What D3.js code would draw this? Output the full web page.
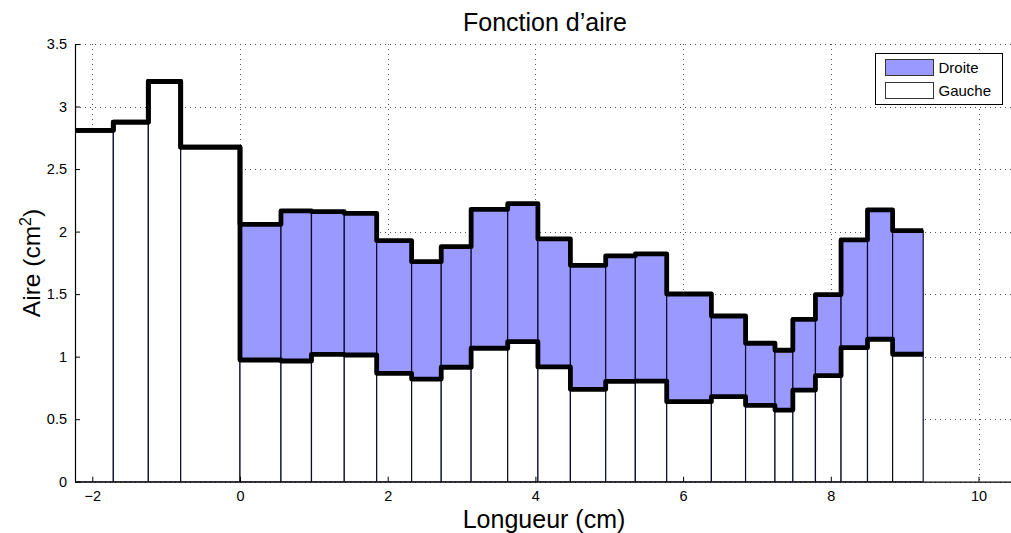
<!DOCTYPE html>
<html><head><meta charset="utf-8">
<script src="https://cdn.jsdelivr.net/npm/d3@7"></script>
<style>
body{margin:0;background:#fff;}
text{font-family:"Liberation Sans",Arial,Helvetica,sans-serif;fill:#000;}
</style></head>
<body><svg id="c" width="1011" height="533"></svg>
<script>
// bar edges (cm)
const edges = [-2.3, -1.715, -1.241, -0.803, 0, 0.555, 0.968, 1.412, 1.851, 2.324, 2.725, 3.130, 3.625, 4.034, 4.474, 4.952, 5.353, 5.778, 6.383, 6.846, 7.244, 7.486, 7.792, 8.139, 8.497, 8.837, 9.251];
// Gauche (bottom, white)
const gauche = [2.81, 2.875, 3.20, 2.675, 0.973, 0.965, 1.018, 1.013, 0.867, 0.821, 0.915, 1.067, 1.120, 0.918, 0.739, 0.803, 0.805, 0.640, 0.680, 0.611, 0.573, 0.733, 0.848, 1.072, 1.139, 1.019];
// Droite (stacked on top, blue)
const droite = [0, 0, 0, 0, 1.085, 1.200, 1.141, 1.133, 1.060, 0.938, 0.964, 1.111, 1.103, 1.023, 0.991, 1.002, 1.016, 0.861, 0.645, 0.496, 0.478, 0.565, 0.648, 0.861, 1.034, 0.988];
const xTicks = [-2, 0, 2, 4, 6, 8, 10];
const yTicks = [0, 0.5, 1, 1.5, 2, 2.5, 3, 3.5];
const seriesNames = ["Droite", "Gauche"];

const svg = d3.select("#c");
const L = 75, R = 1011, T = 44, B = 481.7;
const x = d3.scaleLinear().domain([-2.234, 10.44]).range([L, R]);
const y = d3.scaleLinear().domain([0, 3.5]).range([B, T]);

svg.append("defs").append("clipPath").attr("id", "clip")
  .append("rect").attr("x", L).attr("y", T - 10).attr("width", R - L).attr("height", B - T + 10);

// grid
const grid = svg.append("g").attr("stroke", "#555").attr("stroke-width", 1).attr("stroke-dasharray", "1,4");
grid.selectAll(".gx").data(xTicks).join("line")
  .attr("x1", d => Math.round(x(d)) + 0.5).attr("x2", d => Math.round(x(d)) + 0.5)
  .attr("y1", T).attr("y2", B);
grid.selectAll(".gy").data(yTicks).join("line")
  .attr("x1", L).attr("x2", R)
  .attr("y1", d => Math.round(y(d)) + 0.5).attr("y2", d => Math.round(y(d)) + 0.5);

const bars = d3.range(gauche.length).map(i => ({x0: edges[i], x1: edges[i + 1], g: gauche[i], d: droite[i]}));
const plot = svg.append("g").attr("clip-path", "url(#clip)");

plot.selectAll(".bg").data(bars).join("rect")
  .attr("x", d => x(d.x0)).attr("width", d => x(d.x1) - x(d.x0))
  .attr("y", d => y(d.g)).attr("height", d => y(0) - y(d.g))
  .attr("fill", "#fff").attr("stroke", "#0a0a30").attr("stroke-width", 1.2);
plot.selectAll(".bd").data(bars.filter(d => d.d > 0)).join("rect")
  .attr("x", d => x(d.x0)).attr("width", d => x(d.x1) - x(d.x0))
  .attr("y", d => y(d.g + d.d)).attr("height", d => y(d.g) - y(d.g + d.d))
  .attr("fill", "#9999ff").attr("stroke", "#0a0a30").attr("stroke-width", 1.2);

const stairs = d3.line().x(d => x(d[0])).y(d => y(d[1])).curve(d3.curveStepAfter);
const ptsG = bars.map(b => [b.x0, b.g]).concat([[edges[edges.length - 1], gauche[gauche.length - 1]]]);
const ptsT = bars.map(b => [b.x0, b.g + b.d]).concat([[edges[edges.length - 1], gauche[gauche.length - 1] + droite[droite.length - 1]]]);
[ptsT, ptsG].forEach(p => plot.append("path").attr("d", stairs(p))
  .attr("fill", "none").attr("stroke", "#000").attr("stroke-width", 4.8).attr("stroke-linejoin", "round"));

// axes
const ax = svg.append("g").attr("transform", `translate(0,${B})`)
  .call(d3.axisBottom(x).tickValues(xTicks).tickSizeInner(-5).tickSizeOuter(0).tickPadding(9)
    .tickFormat(d => d < 0 ? "\u2212" + Math.abs(d) : d));
ax.select(".domain").attr("stroke-width", 1.2);
ax.selectAll("text").style("font-size", "14.5px").attr("font-family", null);
const ay = svg.append("g").attr("transform", `translate(${L},0)`)
  .call(d3.axisLeft(y).tickValues(yTicks).tickSizeInner(-5).tickSizeOuter(0).tickPadding(8)
    .tickFormat(d3.format("")));
ay.select(".domain").attr("stroke-width", 1.2);
ay.selectAll("text").style("font-size", "14.5px").attr("font-family", null);

// labels
svg.append("text").attr("x", 545).attr("y", 31).attr("text-anchor", "middle")
  .style("font-size", "25px").text("Fonction d\u2019aire");
svg.append("text").attr("x", 544).attr("y", 528).attr("text-anchor", "middle")
  .style("font-size", "25px").text("Longueur (cm)");
const yl = svg.append("text").attr("transform", `translate(40,263) rotate(-90)`)
  .attr("text-anchor", "middle").style("font-size", "24.5px");
yl.append("tspan").text("Aire (cm");
yl.append("tspan").attr("dy", -9).style("font-size", "16px").text("2");
yl.append("tspan").attr("dy", 9).text(")");

// legend
const lg = svg.append("g").attr("transform", "translate(875.5,53.5)");
lg.append("rect").attr("width", 127).attr("height", 51).attr("fill", "#fff").attr("stroke", "#000").attr("stroke-width", 1);
const fills = ["#9999ff", "#fff"];
seriesNames.forEach((n, i) => {
  lg.append("rect").attr("x", 10).attr("y", 6 + i * 23).attr("width", 48).attr("height", 16)
    .attr("fill", fills[i]).attr("stroke", "#333").attr("stroke-width", 1);
  lg.append("text").attr("x", 63).attr("y", 19.5 + i * 23).style("font-size", "15px").text(n);
});
</script></body></html>
